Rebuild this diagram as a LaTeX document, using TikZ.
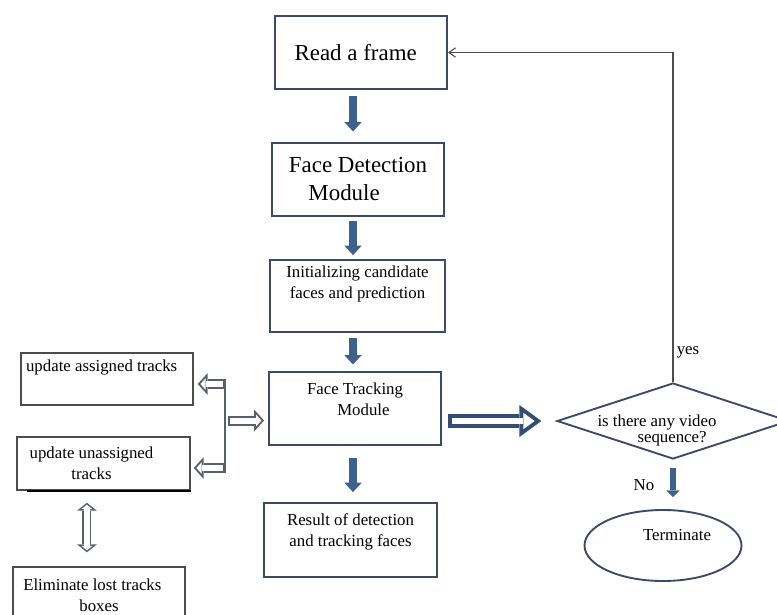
\documentclass[tikz,border=0pt]{standalone}
\usepackage{fontspec}
\setmainfont{Liberation Serif}
\usetikzlibrary{arrows.meta,shapes.geometric}

\definecolor{boxline}{RGB}{58,74,104}
\definecolor{arrowblue}{RGB}{62,96,140}
\definecolor{bigline}{RGB}{52,78,115}
\definecolor{hollowline}{RGB}{88,96,110}

\newcommand{\bigtxt}{\fontsize{17.2pt}{21pt}\selectfont}
\newcommand{\smalltxt}{\fontsize{12.6pt}{15.75pt}\selectfont}

\tikzset{
  box/.style={draw=boxline, line width=1.4pt, minimum width=129pt, minimum height=54.75pt,
    inner sep=2pt, align=center, font=\smalltxt},
  sidebox/.style={box, draw=black!70, line width=1.1pt, minimum height=39pt},
  decision/.style={diamond, draw=boxline, line width=1.4pt, minimum width=174pt,
    minimum height=57pt, inner sep=0pt},
  terminal/.style={ellipse, draw=boxline, line width=1.4pt, minimum width=117.75pt,
    minimum height=53.25pt, inner sep=1pt, align=center, font=\smalltxt},
  fillarrow/.style={draw=arrowblue, line width=6pt,
    -{Triangle[width=13pt,length=7pt,line width=0pt]}},
  thinfill/.style={draw=arrowblue, line width=4pt,
    -{Triangle[width=10pt,length=5pt,line width=0pt]}},
  hollow/.style 2 args={draw=hollowline, line width=7.5pt, shorten <=#1, shorten >=#2,
    -{Triangle[width=16.5pt,length=7.5pt,line width=0pt]},
    postaction={draw=white, line width=4.5pt, shorten <=#1+1.5pt, shorten >=#2+2pt,
      -{Triangle[width=8.8pt,length=4pt,line width=0pt]}}},
  hollowboth/.style 2 args={draw=hollowline, line width=6.75pt, shorten <=#1, shorten >=#2,
    {Triangle[width=15pt,length=6pt,line width=0pt]}-{Triangle[width=15pt,length=6pt,line width=0pt]},
    postaction={draw=white, line width=4.35pt, shorten <=#1+1.5pt, shorten >=#2+1.5pt,
      {Triangle[width=8.2pt,length=3.3pt,line width=0pt]}-{Triangle[width=8.2pt,length=3.3pt,line width=0pt]}}},
  bigarrow/.style 2 args={draw=bigline, line width=10.5pt, shorten <=#1, shorten >=#2,
    -{Triangle[width=24pt,length=16.5pt,line width=0pt]},
    postaction={draw=white, line width=4.5pt, shorten <=#1+3pt, shorten >=#2+5.1pt,
      -{Triangle[width=12.2pt,length=8.4pt,line width=0pt]}}},
  hubline/.style={draw=hollowline, line width=1pt},
  feedback/.style={draw=black!70, line width=0.8pt, -{Straight Barb[length=5pt,width=7pt]}}
}

\begin{document}
\begin{tikzpicture}[x=0.75pt,y=-0.75pt]
  \useasboundingbox (0,0) rectangle (777,614);

  % main column
  \node[box, font=\bigtxt] (rf) at (361,52.5) {Read a frame\hspace*{8pt}};
  \node[box, font=\bigtxt, align=left] (fd) at (358,179.5) {Face Detection\\\hspace*{0.85em}Module};
  \node[box, minimum width=131.25pt, minimum height=54pt] (init) at (357.5,296)
    {Initializing candidate\\faces and prediction\\\strut};
  \node[box, align=left] (ft) at (355,408.5) {Face Tracking\\\hspace*{1.8em}Module\\[-6pt]\strut};
  \node[box, minimum width=129.75pt, minimum height=55.5pt] (res) at (350.5,540)
    {Result of detection\\and tracking faces\\[-6pt]\strut};

  % track boxes on the left
  \node[sidebox] (ua) at (107,379) {update assigned tracks\hspace*{8pt}\\\strut};
  \node[sidebox, minimum width=129.75pt, minimum height=39.75pt] (uu) at (103.5,463.5)
    {update unassigned\hspace*{18pt}\\tracks\hspace*{18pt}};
  \node[sidebox, minimum height=42pt] (el) at (99,595) {Eliminate lost tracks\hspace*{10pt}\\boxes};
  \draw[line width=1.6pt] ([xshift=8pt]uu.south west) -- (uu.south east);

  % decision and end
  \node[decision] (dec) at (673,421) {};
  \node[font=\smalltxt, align=left] (dectext) at (657,430)
    {is there any video\\[-3.75pt]\hspace*{30pt}sequence?};
  \node[terminal] (term) at (663,545.5) {\hspace*{21pt}Terminate\\[-4.5pt]\strut};
  \node[font=\smalltxt] (yes) at (688,352) {yes};
  \node[font=\smalltxt] (no) at (644,485) {No};

  % down arrows
  \coordinate (spine) at (353,0);
  \draw[fillarrow, shorten <=4.5pt, shorten >=8pt] (rf.south -| spine) -- (fd.north -| spine);
  \draw[fillarrow, shorten <=3pt, shorten >=3pt] (fd.south -| spine) -- (init.north -| spine);
  \draw[fillarrow, shorten <=4pt, shorten >=5pt] (init.south -| spine) -- (ft.north -| spine);
  \draw[fillarrow, shorten <=9pt, shorten >=7.5pt] (ft.south -| spine) -- (res.north -| spine);
  \draw[thinfill, shorten <=6pt, shorten >=9pt] (dec.south) -- (dec.south |- term.north);

  % hub between tracking and the track boxes
  \coordinate (hubA) at (225,384);
  \coordinate (hubB) at (225,468);
  \coordinate (hubC) at (228,420.5);
  \draw[hubline] ([yshift=4pt]hubA) -- ([yshift=-4pt]hubB);
  \draw[hollow={0pt}{3pt}] (hubA) -- (hubA -| ua.east);
  \draw[hollow={0pt}{2.25pt}] (hubB) -- (hubB -| uu.east);
  \draw[hollow={0pt}{3pt}] (hubC) -- (hubC -| ft.west);
  \draw[hollowboth={9pt}{10.5pt}] ([xshift=-12.4pt]uu.south) -- ([xshift=-12.4pt]uu.south |- el.north);

  % to the decision and back
  \draw[bigarrow={4.5pt}{11pt}] (ft.east |- dec.west) -- (dec.west);
  \draw[feedback] (dec.north) |- (rf.east);
\end{tikzpicture}
\end{document}
